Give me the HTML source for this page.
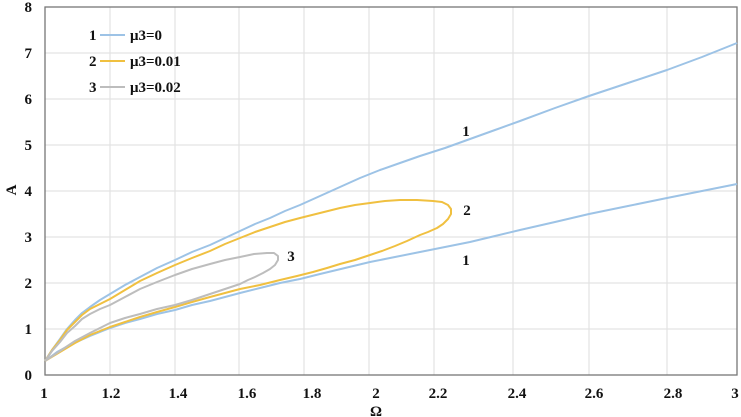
<!DOCTYPE html>
<html><head><meta charset="utf-8"><style>
html,body{margin:0;padding:0;background:#fff;}
svg{display:block;font-family:"Liberation Serif",serif;font-weight:bold;}
</style></head><body>
<svg width="741" height="417" viewBox="0 0 741 417" xmlns="http://www.w3.org/2000/svg">
<g stroke="#e3e3e3" stroke-width="1.2">
<line x1="110" y1="7" x2="110" y2="375"/><line x1="175" y1="7" x2="175" y2="375"/>
<line x1="239" y1="7" x2="239" y2="375"/><line x1="304" y1="7" x2="304" y2="375"/>
<line x1="369" y1="7" x2="369" y2="375"/><line x1="434" y1="7" x2="434" y2="375"/>
<line x1="513" y1="7" x2="513" y2="375"/><line x1="589" y1="7" x2="589" y2="375"/>
<line x1="667" y1="7" x2="667" y2="375"/>
<line x1="45" y1="329" x2="737" y2="329"/><line x1="45" y1="283" x2="737" y2="283"/>
<line x1="45" y1="237" x2="737" y2="237"/><line x1="45" y1="191" x2="737" y2="191"/>
<line x1="45" y1="145" x2="737" y2="145"/><line x1="45" y1="99" x2="737" y2="99"/>
<line x1="45" y1="53" x2="737" y2="53"/>
</g>
<rect x="45" y="7" width="692" height="368" fill="none" stroke="#777" stroke-width="1.3"/>
<g fill="none" stroke-width="2" stroke-linejoin="round">
<path stroke="#9dc3e6" d="M45,361 L52,350 L60,339 L67,329 L75,320 L82,313 L90,307 L100,300 L110,294 L125,285 L140,277 L157,268 L175,260 L192,252 L210,245 L225,238 L240,231 L255,224 L270,218 L285,211 L300,205 L320,196 L340,187 L360,178 L380,170 L400,163 L420,156 L445,148 L470,139 L495,130 L520,121 L555,108 L589,96 L628,83 L667,70 L702,57 L737,43"/>
<path stroke="#9dc3e6" d="M45,361 L57,352 L70,345 L90,336 L110,328 L125,323 L140,319 L157,314 L175,310 L192,305 L210,301 L225,297 L240,293 L260,288 L280,283 L300,279 L320,274 L345,268 L370,262 L395,257 L420,252 L445,247 L470,242 L495,236 L520,230 L555,222 L589,214 L628,206 L667,198 L702,191 L737,184"/>
<path stroke="#f0c040" d="M45,361 L52,350 L60,340 L67,330 L75,322 L82,315 L90,309 L100,304 L110,299 L125,290 L140,281 L157,273 L175,265 L192,258 L210,251 L225,244 L240,238 L255,232 L270,227 L285,222 L300,218 L320,213 L340,208 L355,205 L370,203 L385,201 L400,200 L417,200 L433,201 L442,202 L448,205 L451,209 L451,214 L448,219 L443,224 L437,228 L428,232 L420,235 L407,241 L395,246 L382,251 L370,255 L355,260 L340,264 L327,268 L313,272 L297,276 L280,280 L260,285 L240,289 L225,293 L210,297 L192,302 L175,307 L157,312 L140,317 L125,322 L110,327 L90,335 L75,343 L60,352 L45,361"/>
<path stroke="#bdbdbd" d="M45,361 L52,351 L60,342 L67,333 L75,326 L82,319 L90,314 L100,309 L110,305 L125,297 L140,289 L157,282 L175,275 L192,269 L210,264 L225,260 L240,257 L254,254 L267,253 L274,253 L278,256 L278,260 L275,265 L270,269 L263,273 L255,277 L248,280 L240,284 L225,289 L210,294 L192,300 L175,305 L157,309 L140,314 L125,318 L110,323 L90,333 L75,341 L60,351 L45,361"/>
</g>
<g font-size="15" fill="#111">
<text x="466" y="136" text-anchor="middle">1</text>
<text x="467" y="215" text-anchor="middle">2</text>
<text x="291" y="261" text-anchor="middle">3</text>
<text x="466" y="265" text-anchor="middle">1</text>
</g>
<g font-size="15" fill="#111">
<text x="89" y="40">1</text><line x1="100" y1="35" x2="125" y2="35" stroke="#9dc3e6" stroke-width="2"/><text x="130" y="40">μ3=0</text>
<text x="89" y="66">2</text><line x1="100" y1="61" x2="125" y2="61" stroke="#f0c040" stroke-width="2"/><text x="130" y="66">μ3=0.01</text>
<text x="89" y="92">3</text><line x1="100" y1="87" x2="125" y2="87" stroke="#bdbdbd" stroke-width="2"/><text x="130" y="92">μ3=0.02</text>
</g>
<g font-size="15" fill="#111" text-anchor="end">
<text x="32" y="380">0</text><text x="32" y="334">1</text><text x="32" y="288">2</text>
<text x="32" y="242">3</text><text x="32" y="196">4</text><text x="32" y="150">5</text>
<text x="32" y="104">6</text><text x="32" y="58">7</text><text x="32" y="12">8</text>
</g>
<g font-size="15" fill="#111" text-anchor="middle">
<text x="44" y="398">1</text><text x="111" y="398">1.2</text><text x="178" y="398">1.4</text>
<text x="247" y="398">1.6</text><text x="312" y="398">1.8</text><text x="376" y="398">2</text>
<text x="438" y="398">2.2</text><text x="517" y="398">2.4</text><text x="594" y="398">2.6</text>
<text x="673" y="398">2.8</text><text x="735" y="398">3</text>
<text x="376" y="416">Ω</text>
</g>
<text x="16" y="190" font-size="15" fill="#111" transform="rotate(-90 16 190)" text-anchor="middle">A</text>
</svg>
</body></html>
